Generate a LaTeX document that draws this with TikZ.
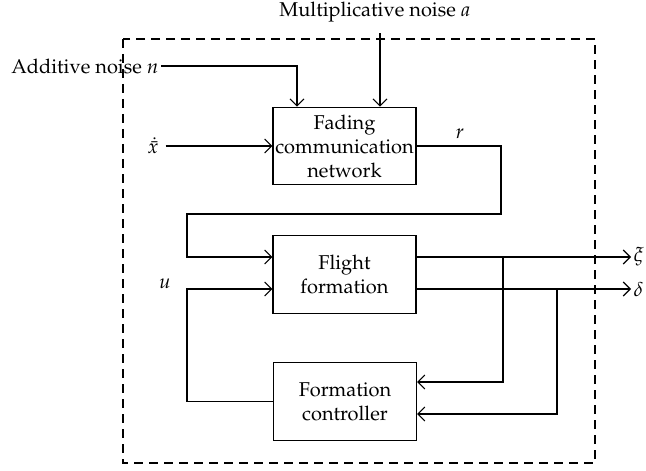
\documentclass[tikz,border=0pt]{standalone}
\usepackage{amsmath,amssymb}
\usepackage[T1]{fontenc}
\usepackage{mathpazo}
\usepackage{xcolor}
\usetikzlibrary{arrows.meta}

\tikzset{
  block/.style={draw, rectangle, align=center, minimum width=71.5pt, minimum height=38.75pt, inner sep=1pt},
  sig/.style={-{Straight Barb[length=3.5pt, width=7pt]}}
}

\begin{document}
\begin{tikzpicture}[x=0.5pt, y=-0.5pt, line width=0.55pt, font=\fontsize{10}{12}\selectfont]
       \useasboundingbox (0,0) rectangle (646,470);
       \draw [dash pattern=on 4.5pt off 3pt] (123,39) rectangle (595,463);

       \node[block] (fade) at (344.5,146) {Fading\\communication\\network};
       \node[block] (flight) at (344.5,274.5) {Flight\\formation};
       \node[block] (ctrl) at (345,401.5) {Formation\\controller};

       \node (muln) at (375,12) {Multiplicative noise $a$};
       \node[anchor=east, inner sep=1pt] (addn) at (161,66) {Additive noise $n$};
       \node (xdot) at (153,146) {$\dot{\bar{x}}$};
       \node (r) at (460,134) {$r$};
       \node (u) at (165,284) {$u$};
       \node[anchor=west, inner sep=1pt] (xi) at (631,257) {$\xi$};
       \node[anchor=west, inner sep=1pt] (delta) at (631,289) {$\delta$};

       \coordinate (mx) at (380,0);
       \coordinate (nx) at (297,0);
       \coordinate (fb1) at (501,214);
       \coordinate (fb2) at (187,214);
       \coordinate (ux) at (187,0);
       \coordinate (jxi) at (503,257);
       \coordinate (jdel) at (557,289);

       % inputs of the network
       \draw [sig] ([yshift=-2pt]muln.south -| mx) -- (fade.north -| mx);
       \draw [sig] (addn.east) -| (fade.north -| nx);
       \draw [sig] (xdot.east) -- (fade.west);

       % r back to the formation
       \draw [sig] (fade.east) -| (fb1) -- (fb2) |- ([yshift=8.75pt]flight.west);

       % outputs
       \draw [sig] ([yshift=8.75pt]flight.east) -- (xi.west);
       \draw [sig] ([yshift=-7.25pt]flight.east) -- (delta.west);
       \draw [sig] (jxi) |- ([yshift=9.75pt]ctrl.east);
       \draw [sig] (jdel) |- ([yshift=-6.25pt]ctrl.east);

       % control input u
       \draw [sig] (ctrl.west) -| (ux |- ctrl.west) |- ([yshift=-7.25pt]flight.west);
    \end{tikzpicture}
\end{document}
